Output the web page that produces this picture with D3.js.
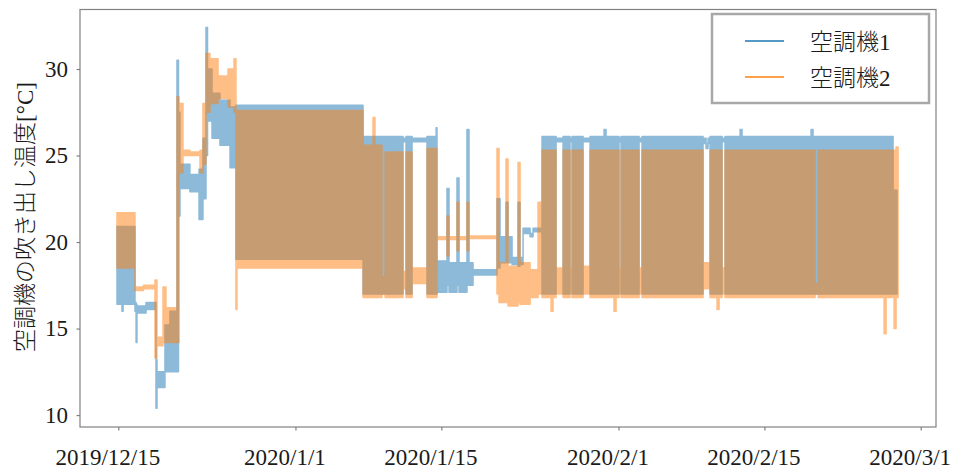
<!DOCTYPE html>
<html>
<head>
<meta charset="utf-8">
<title>空調機の吹き出し温度</title>
<script src="https://cdn.jsdelivr.net/npm/d3@7"></script>
<style>
    body { margin: 0; background: #fff; }
    text { font-family: "Liberation Serif", "Noto Sans CJK JP", serif; fill: #1a1a1a; }
</style>
</head>
<body>
<script>
    const seriesNames = ["空調機1", "空調機2"];
    const colors = ["#1f77b4", "#ff7f0e"];

    // readings as [from, to, low, high] in °C.
    // low ~ high is a steady value, low < high is the band that the
    // fast on/off cycling fills in at this scale
    const unit1 = [
        ["2019-12-14 21:00", "2019-12-15 08:30", 16.4, 20.9],
        ["2019-12-15 08:30", "2019-12-15 11:00", 16.0, 20.9],
        ["2019-12-15 11:00", "2019-12-16 14:30", 16.4, 20.9],
        ["2019-12-16 14:30", "2019-12-16 17:00", 16.0, 16.5],
        ["2019-12-16 17:00", "2019-12-16 19:00", 14.2, 16.4],
        ["2019-12-16 19:00", "2019-12-17 16:00", 15.9, 16.3],
        ["2019-12-17 16:00", "2019-12-18 14:50", 16.1, 16.5],
        ["2019-12-18 14:50", "2019-12-18 17:10", 10.4, 13.2],
        ["2019-12-18 17:10", "2019-12-19 11:30", 11.6, 12.5],
        ["2019-12-19 11:30", "2019-12-19 23:00", 12.5, 15.2],
        ["2019-12-19 23:00", "2019-12-20 15:10", 12.5, 16.0],
        ["2019-12-20 15:10", "2019-12-20 18:40", 12.5, 30.5],
        ["2019-12-20 18:40", "2019-12-20 22:00", 21.5, 27.5],
        ["2019-12-20 22:00", "2019-12-21 21:00", 23.1, 24.5],
        ["2019-12-21 21:00", "2019-12-22 18:00", 22.9, 23.9],
        ["2019-12-22 18:00", "2019-12-23 03:00", 21.3, 24.2],
        ["2019-12-23 03:00", "2019-12-23 10:00", 22.5, 26.0],
        ["2019-12-23 10:00", "2019-12-23 13:30", 25.0, 32.4],
        ["2019-12-23 13:30", "2019-12-23 23:50", 27.0, 30.0],
        ["2019-12-23 23:50", "2019-12-24 18:10", 26.0, 28.6],
        ["2019-12-24 18:10", "2019-12-25 17:20", 25.6, 28.2],
        ["2019-12-25 17:20", "2019-12-26 07:00", 24.3, 27.8],
        ["2019-12-26 07:00", "2020-01-07 11:40", 19.0, 27.9],
        ["2020-01-07 11:40", "2020-01-11 07:40", 17.0, 26.1],
        ["2020-01-11 07:40", "2020-01-11 14:40", 25.8, 26.0],
        ["2020-01-11 14:40", "2020-01-12 04:30", 17.0, 26.1],
        ["2020-01-12 04:30", "2020-01-13 15:00", 25.8, 26.0],
        ["2020-01-13 15:00", "2020-01-14 12:00", 17.0, 26.1],
        ["2020-01-14 12:00", "2020-01-14 14:00", 17.0, 26.6],
        ["2020-01-14 14:00", "2020-01-15 13:00", 17.1, 18.9],
        ["2020-01-15 13:00", "2020-01-15 17:40", 17.5, 23.1],
        ["2020-01-15 17:40", "2020-01-16 12:00", 17.1, 18.8],
        ["2020-01-16 12:00", "2020-01-16 16:40", 17.5, 23.7],
        ["2020-01-16 16:40", "2020-01-17 11:00", 17.1, 18.8],
        ["2020-01-17 11:00", "2020-01-17 15:40", 17.5, 26.5],
        ["2020-01-17 15:40", "2020-01-18 01:00", 17.5, 18.8],
        ["2020-01-18 01:00", "2020-01-20 08:10", 18.1, 18.4],
        ["2020-01-20 08:10", "2020-01-20 15:10", 18.5, 22.5],
        ["2020-01-20 15:10", "2020-01-21 05:00", 18.8, 20.3],
        ["2020-01-21 05:00", "2020-01-21 09:30", 18.8, 22.3],
        ["2020-01-21 09:30", "2020-01-21 18:50", 18.8, 20.3],
        ["2020-01-21 18:50", "2020-01-22 08:40", 18.7, 19.1],
        ["2020-01-22 08:40", "2020-01-22 13:10", 18.6, 22.3],
        ["2020-01-22 13:10", "2020-01-22 20:10", 18.7, 19.1],
        ["2020-01-22 20:10", "2020-01-23 12:20", 20.5, 20.8],
        ["2020-01-23 12:20", "2020-01-23 19:10", 20.3, 20.5],
        ["2020-01-23 19:10", "2020-01-24 15:50", 20.6, 20.8],
        ["2020-01-24 15:50", "2020-01-26 00:10", 17.0, 26.1],
        ["2020-01-26 00:10", "2020-01-26 16:20", 25.8, 26.0],
        ["2020-01-26 16:20", "2020-01-27 08:20", 17.0, 26.1],
        ["2020-01-27 08:20", "2020-01-27 13:00", 25.8, 26.0],
        ["2020-01-27 13:00", "2020-01-28 14:20", 17.0, 26.1],
        ["2020-01-28 14:20", "2020-01-29 06:30", 25.8, 26.0],
        ["2020-01-29 06:30", "2020-01-30 14:40", 17.0, 26.1],
        ["2020-01-30 14:40", "2020-01-30 19:20", 17.0, 26.5],
        ["2020-01-30 19:20", "2020-02-01 01:10", 17.0, 26.1],
        ["2020-02-01 01:10", "2020-02-01 05:50", 25.8, 26.0],
        ["2020-02-01 05:50", "2020-02-02 23:20", 17.0, 26.1],
        ["2020-02-02 23:20", "2020-02-03 06:10", 25.8, 26.0],
        ["2020-02-03 06:10", "2020-02-09 02:40", 17.0, 26.1],
        ["2020-02-09 02:40", "2020-02-09 09:40", 25.7, 26.0],
        ["2020-02-09 09:40", "2020-02-09 14:10", 25.4, 25.7],
        ["2020-02-09 14:10", "2020-02-09 18:50", 25.7, 26.0],
        ["2020-02-09 18:50", "2020-02-10 22:30", 17.0, 26.1],
        ["2020-02-10 22:30", "2020-02-11 05:20", 25.8, 26.0],
        ["2020-02-11 05:20", "2020-02-12 16:00", 17.0, 26.1],
        ["2020-02-12 16:00", "2020-02-12 20:30", 17.0, 26.5],
        ["2020-02-12 20:30", "2020-02-19 11:30", 17.0, 26.1],
        ["2020-02-19 11:30", "2020-02-19 16:00", 17.0, 26.5],
        ["2020-02-19 16:00", "2020-02-27 08:20", 17.0, 26.1],
        ["2020-02-27 08:20", "2020-02-27 17:30", 17.0, 23.0]
    ];

    const unit2 = [
        ["2019-12-14 21:00", "2019-12-16 14:30", 18.5, 21.7],
        ["2019-12-16 14:30", "2019-12-17 10:00", 17.2, 17.4],
        ["2019-12-17 10:00", "2019-12-18 12:30", 17.3, 17.5],
        ["2019-12-18 12:30", "2019-12-18 17:10", 13.3, 17.8],
        ["2019-12-18 17:10", "2019-12-19 07:00", 14.0, 14.5],
        ["2019-12-19 07:00", "2019-12-19 13:50", 14.2, 17.4],
        ["2019-12-19 13:50", "2019-12-20 15:10", 14.2, 16.2],
        ["2019-12-20 15:10", "2019-12-20 19:50", 14.2, 28.4],
        ["2019-12-20 19:50", "2019-12-21 05:00", 24.0, 28.0],
        ["2019-12-21 05:00", "2019-12-21 21:00", 25.0, 25.3],
        ["2019-12-21 21:00", "2019-12-22 20:10", 25.0, 25.2],
        ["2019-12-22 20:10", "2019-12-23 03:00", 24.0, 25.3],
        ["2019-12-23 03:00", "2019-12-23 10:00", 24.5, 28.0],
        ["2019-12-23 10:00", "2019-12-23 19:10", 27.5, 30.9],
        ["2019-12-23 19:10", "2019-12-24 13:40", 28.0, 30.6],
        ["2019-12-24 13:40", "2019-12-25 12:40", 28.3, 29.6],
        ["2019-12-25 12:40", "2019-12-26 02:30", 27.8, 30.0],
        ["2019-12-26 02:30", "2019-12-26 07:00", 27.5, 30.6],
        ["2019-12-26 07:00", "2019-12-26 09:20", 16.1, 27.6],
        ["2019-12-26 09:20", "2020-01-07 11:40", 18.5, 27.6],
        ["2020-01-07 11:40", "2020-01-08 10:40", 16.8, 25.6],
        ["2020-01-08 10:40", "2020-01-08 15:10", 16.8, 27.2],
        ["2020-01-08 15:10", "2020-01-09 07:20", 16.8, 25.6],
        ["2020-01-09 07:20", "2020-01-09 14:20", 17.0, 18.0],
        ["2020-01-09 14:20", "2020-01-11 07:40", 16.8, 25.2],
        ["2020-01-11 07:40", "2020-01-11 14:40", 17.3, 18.3],
        ["2020-01-11 14:40", "2020-01-12 04:30", 16.8, 25.2],
        ["2020-01-12 04:30", "2020-01-13 15:00", 17.6, 18.5],
        ["2020-01-13 15:00", "2020-01-14 14:00", 16.8, 25.4],
        ["2020-01-14 14:00", "2020-01-15 13:00", 20.15, 20.3],
        ["2020-01-15 13:00", "2020-01-15 17:40", 19.2, 21.5],
        ["2020-01-15 17:40", "2020-01-16 12:00", 20.15, 20.3],
        ["2020-01-16 12:00", "2020-01-16 16:40", 19.5, 22.3],
        ["2020-01-16 16:40", "2020-01-17 11:00", 20.15, 20.3],
        ["2020-01-17 11:00", "2020-01-17 15:40", 19.5, 22.3],
        ["2020-01-17 15:40", "2020-01-20 08:10", 20.2, 20.35],
        ["2020-01-20 08:10", "2020-01-20 12:50", 17.0, 25.4],
        ["2020-01-20 12:50", "2020-01-21 05:00", 16.5, 18.8],
        ["2020-01-21 05:00", "2020-01-21 09:30", 16.5, 24.8],
        ["2020-01-21 09:30", "2020-01-22 08:40", 16.3, 18.6],
        ["2020-01-22 08:40", "2020-01-22 13:10", 16.5, 24.6],
        ["2020-01-22 13:10", "2020-01-23 12:20", 16.4, 18.8],
        ["2020-01-23 12:20", "2020-01-24 06:40", 16.8, 18.4],
        ["2020-01-24 06:40", "2020-01-24 15:50", 17.0, 22.3],
        ["2020-01-24 15:50", "2020-01-25 12:40", 16.8, 25.3],
        ["2020-01-25 12:40", "2020-01-25 17:10", 16.0, 25.3],
        ["2020-01-25 17:10", "2020-01-26 00:10", 16.8, 25.3],
        ["2020-01-26 00:10", "2020-01-26 16:20", 17.0, 18.5],
        ["2020-01-26 16:20", "2020-01-27 08:20", 16.8, 25.3],
        ["2020-01-27 08:20", "2020-01-27 13:00", 17.0, 18.5],
        ["2020-01-27 13:00", "2020-01-28 14:20", 16.8, 25.3],
        ["2020-01-28 14:20", "2020-01-29 06:30", 17.0, 18.6],
        ["2020-01-29 06:30", "2020-01-31 13:40", 16.8, 25.3],
        ["2020-01-31 13:40", "2020-01-31 18:20", 16.0, 25.3],
        ["2020-01-31 18:20", "2020-02-01 01:10", 16.8, 25.3],
        ["2020-02-01 01:10", "2020-02-01 05:50", 17.0, 18.5],
        ["2020-02-01 05:50", "2020-02-02 23:20", 16.8, 25.3],
        ["2020-02-02 23:20", "2020-02-03 06:10", 17.0, 18.5],
        ["2020-02-03 06:10", "2020-02-09 02:40", 16.8, 25.3],
        ["2020-02-09 02:40", "2020-02-09 18:50", 17.3, 18.8],
        ["2020-02-09 18:50", "2020-02-10 11:00", 16.8, 25.3],
        ["2020-02-10 11:00", "2020-02-10 15:30", 16.1, 25.3],
        ["2020-02-10 15:30", "2020-02-10 22:30", 16.8, 25.3],
        ["2020-02-10 22:30", "2020-02-11 05:20", 17.0, 18.5],
        ["2020-02-11 05:20", "2020-02-19 20:40", 16.8, 25.3],
        ["2020-02-19 20:40", "2020-02-20 03:40", 17.0, 17.6],
        ["2020-02-20 03:40", "2020-02-26 11:40", 16.8, 25.3],
        ["2020-02-26 11:40", "2020-02-26 16:10", 14.7, 25.3],
        ["2020-02-26 16:10", "2020-02-27 10:40", 16.8, 25.3],
        ["2020-02-27 10:40", "2020-02-27 15:10", 15.0, 25.3],
        ["2020-02-27 15:10", "2020-02-27 19:50", 16.8, 25.5]
    ];

    const xTickDates = ["2019-12-15", "2020-01-01", "2020-01-15", "2020-02-01", "2020-02-15", "2020-03-01"];
    const xTickLabels = ["2019/12/15", "2020/1/1", "2020/1/15", "2020/2/1", "2020/2/15", "2020/3/1"];
    const yTicks = [10, 15, 20, 25, 30];
    const yLabel = "空調機の吹き出し温度[°C]";

    const parseTime = d3.timeParse("%Y-%m-%d %H:%M");
    const parseDay = d3.timeParse("%Y-%m-%d");

    const plot = { left: 80, right: 936, top: 9.5, bottom: 427 };

    const svg = d3.select("body").append("svg")
        .attr("width", 955)
        .attr("height", 474);

    const x = d3.scaleTime()
        .domain([parseTime("2019-12-11 07:50"), parseTime("2020-03-02 11:10")])
        .range([plot.left, plot.right]);
    const y = d3.scaleLinear()
        .domain([9.31, 33.44])
        .range([plot.bottom, plot.top]);

    // each row holds its level from start to end, so steps come out vertical
    function toPoints(rows) {
        const pts = [];
        rows.forEach(r => {
            pts.push({ t: parseTime(r[0]), lo: r[2], hi: r[3] });
            pts.push({ t: parseTime(r[1]), lo: r[2], hi: r[3] });
        });
        return pts;
    }

    const band = d3.area()
        .x(d => x(d.t))
        .y0(d => y(d.lo))
        .y1(d => y(d.hi));

    // group opacity so the trace does not darken where it overlaps itself
    [unit1, unit2].forEach((rows, i) => {
        svg.append("g")
            .attr("opacity", 0.5)
            .append("path")
            .datum(toPoints(rows))
            .attr("d", band)
            .attr("fill", colors[i])
            .attr("stroke", colors[i])
            .attr("stroke-width", 1.5)
            .attr("stroke-linejoin", "round");
    });

    // axes
    const yAxis = svg.append("g")
        .attr("transform", "translate(" + plot.left + ",0)")
        .call(d3.axisLeft(y).tickValues(yTicks).tickSize(3.5).tickPadding(8.5));
    const xAxis = svg.append("g")
        .attr("transform", "translate(0," + plot.bottom + ")")
        .call(d3.axisBottom(x)
            .tickValues(xTickDates.map(parseDay))
            .tickFormat((d, i) => xTickLabels[i])
            .tickSize(3.5)
            .tickPadding(18.5));

    [yAxis, xAxis].forEach(ax => {
        ax.select(".domain").remove();
        ax.selectAll(".tick line").attr("stroke", "#808080").attr("stroke-width", 1.2);
        ax.selectAll(".tick text")
            .style("font-family", '"Liberation Serif", serif')
            .style("font-size", "23px")
            .attr("fill", "#1a1a1a");
    });
    xAxis.selectAll(".tick text").attr("dx", -11);

    svg.append("rect")
        .attr("x", plot.left)
        .attr("y", plot.top)
        .attr("width", plot.right - plot.left)
        .attr("height", plot.bottom - plot.top)
        .attr("fill", "none")
        .attr("stroke", "#808080")
        .attr("stroke-width", 1.2);

    svg.append("text")
        .attr("transform", "translate(25,217) rotate(-90)")
        .attr("text-anchor", "middle")
        .attr("dominant-baseline", "central")
        .style("font-size", "23px")
        .style("font-weight", 300)
        .text(yLabel);

    // legend
    const legend = svg.append("g");
    legend.append("rect")
        .attr("x", 712)
        .attr("y", 14)
        .attr("width", 217)
        .attr("height", 89)
        .attr("fill", "#fff")
        .attr("stroke", "#a8a8a8")
        .attr("stroke-width", 2.5);

    const items = legend.selectAll(".legends")
        .data(seriesNames)
        .enter().append("g")
        .attr("class", "legends")
        .attr("transform", (d, i) => "translate(745," + (41 + i * 36) + ")");

    items.append("line")
        .attr("x1", 0)
        .attr("x2", 39)
        .attr("stroke", (d, i) => colors[i])
        .attr("stroke-width", 2.2)
        .attr("opacity", 0.75);

    items.append("text")
        .attr("x", 65)
        .attr("y", 1)
        .attr("dominant-baseline", "central")
        .style("font-size", "23px")
        .style("font-weight", 300)
        .text(d => d);
</script>
</body>
</html>
